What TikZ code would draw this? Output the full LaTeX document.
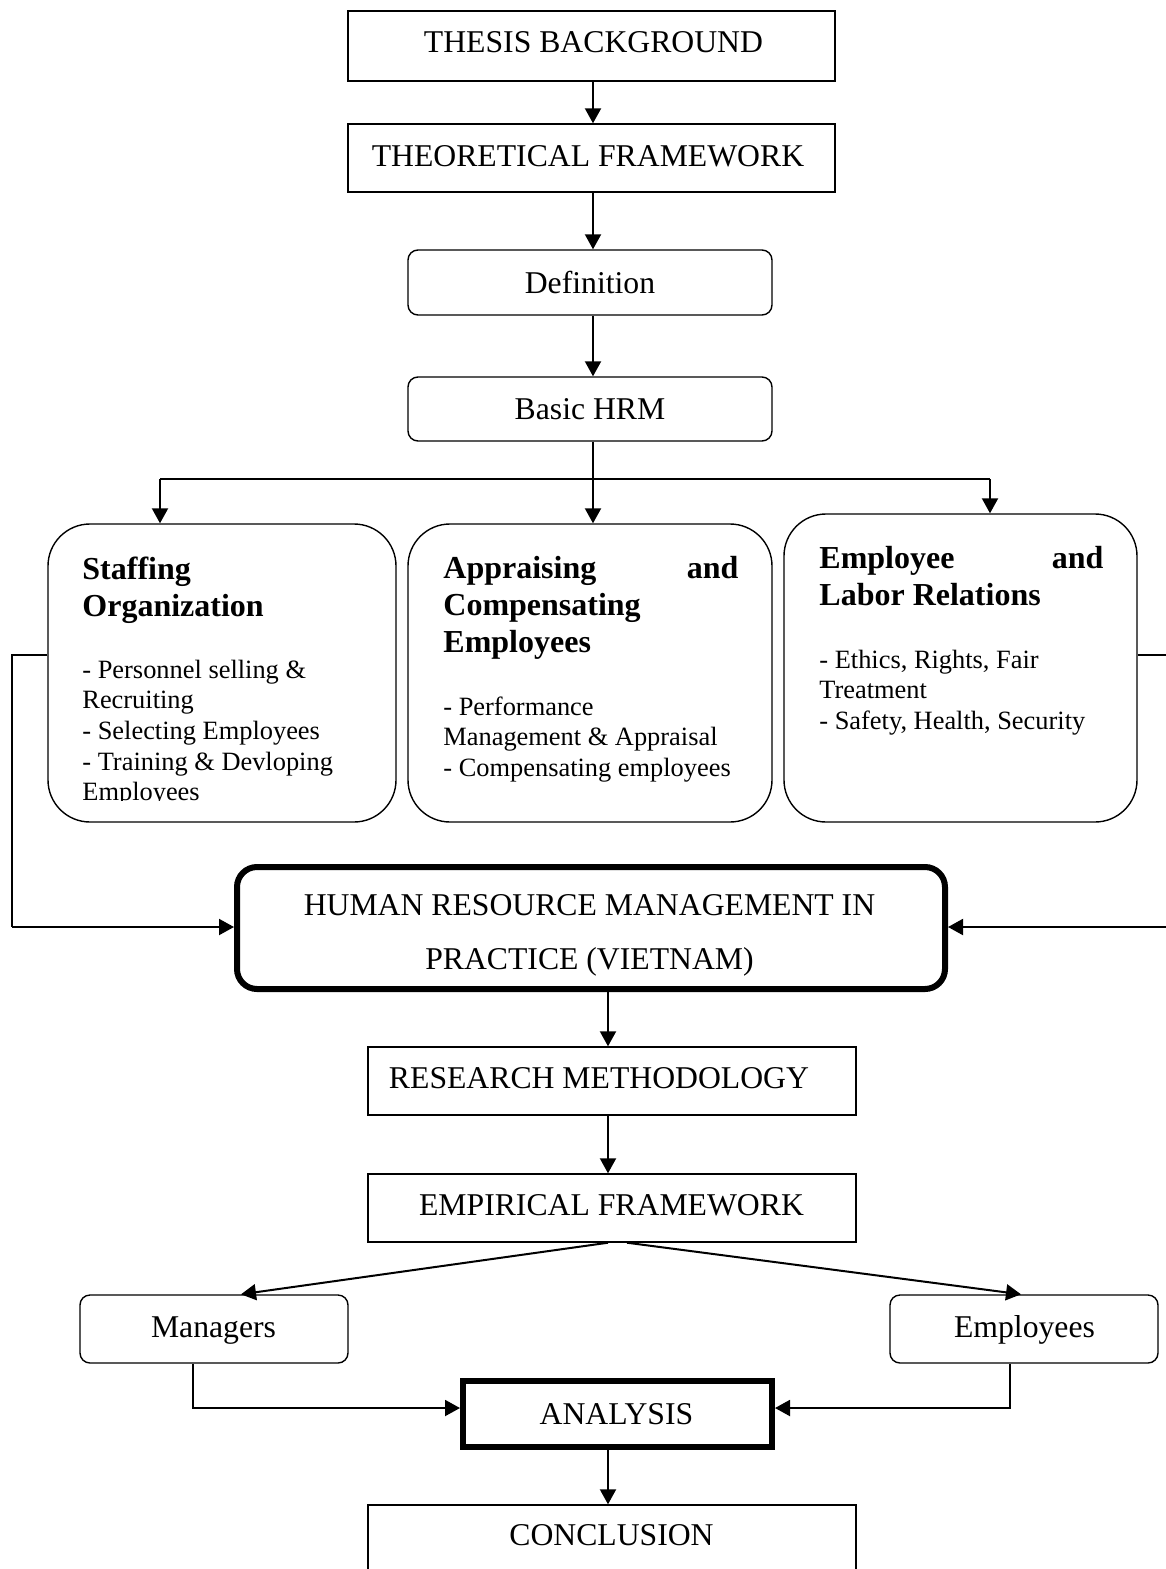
\documentclass[tikz,border=0pt]{standalone}
\usepackage{fontspec}
\setmainfont{Liberation Serif}
\usetikzlibrary{arrows.meta,calc}
\begin{document}
\begin{tikzpicture}[x=0.5pt,y=-0.5pt,
  box/.style={draw,line width=0.7pt,inner sep=0pt,rectangle},
  rbox/.style={box,rounded corners=5pt},
  bigbox/.style={box,rounded corners=21pt},
  heavy/.style={box,line width=3pt},
  txt/.style={font=\fontsize{15.85}{19}\selectfont,inner sep=0pt,anchor=base},
  ttl/.style={font=\fontsize{16}{18.5}\selectfont\bfseries,inner sep=0pt,anchor=base west,align=flush left,text width=170pt},
  bdy/.style={font=\fontsize{13.2}{15.35}\selectfont,inner sep=0pt,anchor=base west,align=flush left,text width=165pt},
  arr/.style={line width=1pt,-{Triangle[length=7.5pt,width=8pt]}},
  link/.style={line width=1pt},
  wire/.style={line width=0.9pt},
]
\useasboundingbox (0,0) rectangle (1166,1569);

% boxes
\node[box,minimum width=243.5pt,minimum height=35pt] (tb) at (591.5,46) {};
\node[box,minimum width=243.5pt,minimum height=34pt] (tf) at (591.5,158) {};
\node[rbox,minimum width=182pt,minimum height=32.5pt] (def) at (590,282.5) {};
\node[rbox,minimum width=182pt,minimum height=32pt] (bhrm) at (590,409) {};
\node[bigbox,minimum width=174pt,minimum height=149pt] (staff) at (222,673) {};
\node[bigbox,minimum width=182pt,minimum height=149pt] (appr) at (590,673) {};
\node[bigbox,minimum width=176.5pt,minimum height=154pt] (empl) at (960.5,668) {};
\node[heavy,rounded corners=10pt,minimum width=354pt,minimum height=61pt] (prac) at (591,928) {};
\node[box,minimum width=244pt,minimum height=34pt] (rm) at (612,1081) {};
\node[box,minimum width=244pt,minimum height=34pt] (ef) at (612,1208) {};
\node[rbox,minimum width=134pt,minimum height=34pt] (mgr) at (214,1329) {};
\node[rbox,minimum width=134pt,minimum height=34pt] (emp) at (1024,1329) {};
\node[heavy,minimum width=154.5pt,minimum height=33pt] (ana) at (617.5,1414) {};
\node[box,minimum width=244pt,minimum height=35pt] (conc) at (612,1540) {};

% texts
\node[txt] (tbl) at (593.5,52) {THESIS BACKGROUND};
\node[txt] (tfl) at (588,166) {THEORETICAL FRAMEWORK};
\node[txt] (defl) at (590,293) {Definition};
\node[txt] (bhrml) at (590,419) {Basic HRM};

\node[ttl] (stafft) at (82,579) {Staffing\\Organization};
\begin{scope}
  \clip (40,560) rectangle (400,800);
  \node[bdy] (staffb) at (82,678) {- Personnel selling \&\\Recruiting\\- Selecting Employees\\- Training \& Devloping\\Employees};
\end{scope}

\node[ttl,text width=147.5pt] (apprt) at (443,578) {Appraising\hfill and\\Compensating\\Employees};
\node[bdy] (apprb) at (443,715) {- Performance\\Management \& Appraisal\\- Compensating employees};

\node[ttl,text width=142pt] (emplt) at (819,568) {Employee\hfill and\\Labor Relations};
\node[bdy] (emplb) at (819,668) {- Ethics, Rights, Fair\\Treatment\\- Safety, Health, Security};

\node[txt,align=flush center,text width=340pt,font=\fontsize{15.85}{27}\selectfont] (pracl) at (589.5,915) {HUMAN RESOURCE MANAGEMENT IN\\PRACTICE (VIETNAM)};
\node[txt] (rml) at (599,1088) {RESEARCH METHODOLOGY};
\node[txt] (efl) at (611.5,1215) {EMPIRICAL FRAMEWORK};
\node[txt] (mgrl) at (213.5,1337) {Managers};
\node[txt] (empl2) at (1024.5,1337) {Employees};
\node[txt] (anal) at (616.5,1424) {ANALYSIS};
\node[txt] (concl) at (611.5,1545) {CONCLUSION};

% upper spine
\coordinate (s1) at (593,0);
\coordinate (s2) at (608,0);
\draw[arr] (tb.south -| s1) -- (tf.north -| s1);
\draw[arr] (tf.south -| s1) -- (def.north -| s1);
\draw[arr] (def.south -| s1) -- (bhrm.north -| s1);

% branching to the three HRM areas
\coordinate (bus) at (593,479);
\coordinate (busL) at (160,479);
\coordinate (busR) at (990,479);
\draw[link] (bhrm.south -| s1) -- (bus);
\draw[link] (busL) -- (busR);
\draw[arr] (busL) -- (busL |- staff.north);
\draw[arr] (bus) -- (bus |- appr.north);
\draw[arr] (busR) -- (busR |- empl.north);

% side loops into the practice box
\coordinate (lc) at (12,927);
\coordinate (rc) at (1168,927);
\draw[wire] ($(staff.west)+(0,-18)$) -| (lc);
\draw[arr] (lc) -- (prac.west |- lc);
\draw[wire] ($(empl.east)+(0,-13)$) -| (rc);
\draw[arr] (rc) -- (prac.east |- rc);

% lower spine
\draw[arr] (prac.south -| s2) -- (rm.north -| s2);
\draw[arr] (rm.south -| s2) -- (ef.north -| s2);
\draw[arr] ($(ef.south)+(-4,0)$) -- ($(mgr.north)+(27,0)$);
\draw[arr] ($(ef.south)+(15,0)$) -- ($(emp.north)+(-3,0)$);
\draw[arr] ($(mgr.south)+(-21,0)$) |- ($(ana.west)+(0,-6)$);
\draw[arr] ($(emp.south)+(-14,0)$) |- ($(ana.east)+(0,-6)$);
\draw[arr] (ana.south -| s2) -- (conc.north -| s2);
\end{tikzpicture}
\end{document}
